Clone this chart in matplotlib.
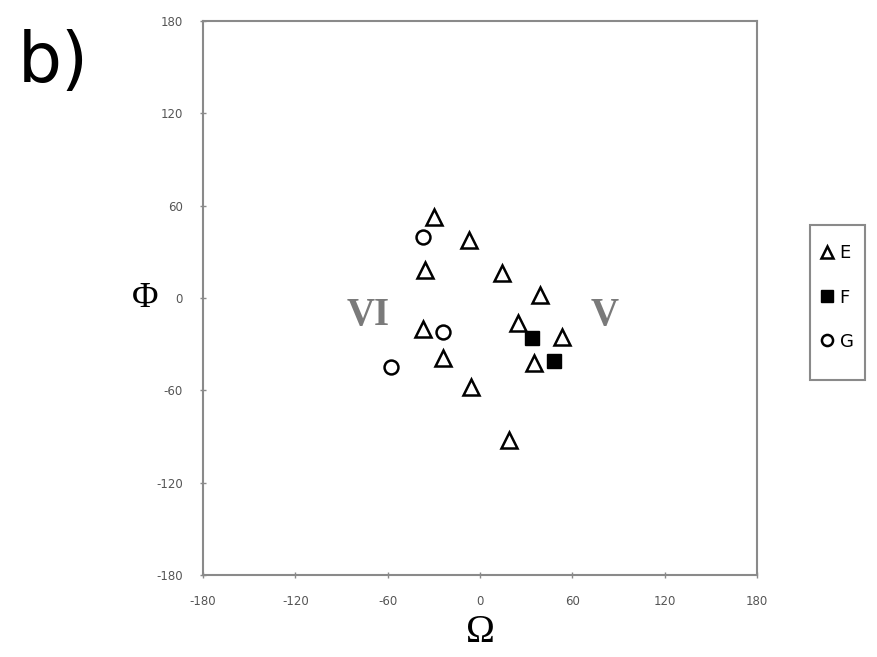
import matplotlib
matplotlib.use("Agg")
import matplotlib.pyplot as plt
from matplotlib.patches import Rectangle

plt.rcParams["axes.unicode_minus"] = False

# Omega / Phi coordinates per group
e_omega = [-30, -7, -36, 14, 39, 25, -37, 53, -24, 35, -6, 19]
e_phi = [53, 38, 18, 16, 2, -16, -20, -25, -39, -42, -58, -92]
f_omega = [34, 48]
f_phi = [-26, -41]
g_omega = [-37, -24, -58]
g_phi = [40, -22, -45]

ticks = [-180, -120, -60, 0, 60, 120, 180]
gray = "#8a8a8a"
serif = "Liberation Serif"

fig = plt.figure(figsize=(8.78, 6.57), dpi=100)
ax = fig.add_axes([0.2312, 0.1248, 0.631, 0.843])

ax.plot(e_omega, e_phi, "^", ms=11, mfc="white", mec="black", mew=1.8,
        ls="none", label="E")
ax.plot(f_omega, f_phi, "s", ms=10, mfc="black", mec="black",
        ls="none", label="F")
ax.plot(g_omega, g_phi, "o", ms=10, mfc="white", mec="black", mew=1.8,
        ls="none", label="G")

ax.set_xlim(-180, 180)
ax.set_ylim(-180, 180)
ax.set_xticks(ticks)
ax.set_yticks(ticks)
ax.tick_params(direction="inout", length=5, width=1, color=gray,
               labelcolor="#555555", labelsize=8.5, pad=12)
for s in ax.spines.values():
    s.set_color(gray)
    s.set_linewidth(1.5)

ax.set_xlabel("Ω", fontsize=28, family=serif, labelpad=4)
ax.set_ylabel("Φ", fontsize=26, family=serif, rotation=0,
              labelpad=8, va="center")

ax.text(-73, -11, "VI", fontsize=28, fontweight="bold", family=serif,
        color="#7a7a7a", ha="center", va="center")
ax.text(81, -11, "V", fontsize=28, fontweight="bold", family=serif,
        color="#7a7a7a", ha="center", va="center")

fig.text(0.02, 0.905, "b)", fontsize=50, ha="left", va="center")

# legend entries without frame, box drawn separately
leg = fig.legend(loc="center", bbox_to_anchor=(0.954, 0.547),
                 fontsize=13, frameon=False, handlelength=0.6,
                 handletextpad=0.4, labelspacing=1.45, borderpad=0.3,
                 markerscale=0.8)
fig.patches.append(Rectangle((0.9226, 0.4216), 0.0626, 0.236,
                             transform=fig.transFigure, fill=False,
                             edgecolor=gray, linewidth=1.5))

fig.savefig("out.png", dpi=100)
